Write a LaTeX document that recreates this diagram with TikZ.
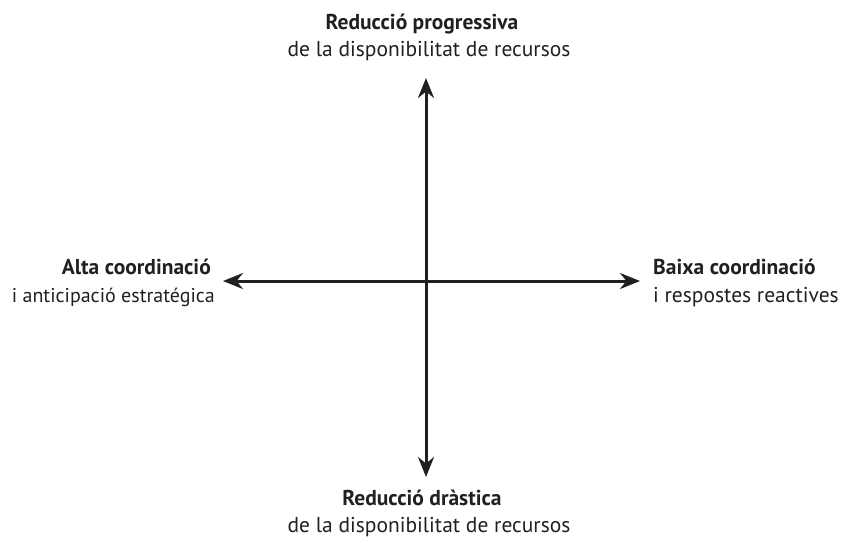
\documentclass[tikz,border=0pt]{standalone}
\usepackage{fontspec}
\setmainfont{PT Sans}
\usetikzlibrary{arrows.meta}
\definecolor{ink}{HTML}{231F20}
\begin{document}
\begin{tikzpicture}[x=1pt,y=-1pt,
  axis/.style={line width=3pt,draw=ink,{Stealth[length=20pt,width=16pt]}-{Stealth[length=20pt,width=16pt]}},
  lab/.style={inner sep=0pt,text=ink,font=\fontsize{21.5}{26}\selectfont},
  labb/.style={lab,font=\fontsize{21.5}{26}\selectfont\bfseries}]
\useasboundingbox (0,0) rectangle (843,542);
\coordinate (T) at (426,78);
\coordinate (B) at (426,477);
\coordinate (L) at (223,281);
\coordinate (R) at (640,281);
\draw[axis] (T) -- (B);
\draw[axis] (L) -- (R);
\node[labb,anchor=base] (t1) at (422,29) {Reducció progressiva};
\node[lab,anchor=base] (t2) at (429,56) {de la disponibilitat de recursos};
\node[labb,anchor=base east] (l1) at (211,274) {Alta coordinació};
\node[lab,anchor=base east,font=\fontsize{20}{24}\selectfont] (l2) at (215,302) {i anticipació estratégica};
\node[labb,anchor=base west] (r1) at (653,274) {Baixa coordinació};
\node[lab,anchor=base west] (r2) at (653,302) {i respostes reactives};
\node[labb,anchor=base] (b1) at (422,505) {Reducció dràstica};
\node[lab,anchor=base] (b2) at (429,532) {de la disponibilitat de recursos};
\end{tikzpicture}
\end{document}
